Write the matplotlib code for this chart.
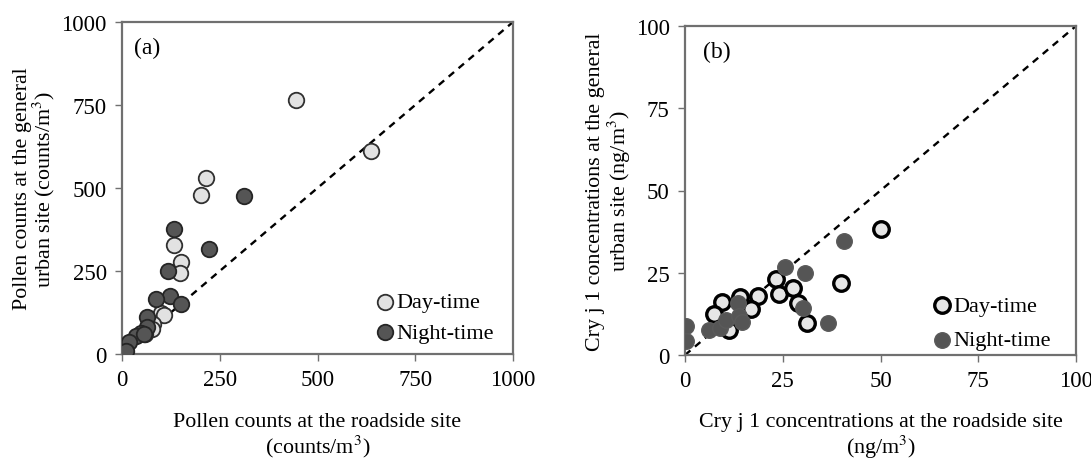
import matplotlib
matplotlib.use('Agg')
import matplotlib.pyplot as plt

plt.rcParams['font.family'] = ['Liberation Serif', 'DejaVu Serif']
plt.rcParams['mathtext.fontset'] = 'stix'

# (a) pollen counts, counts/m3 : roadside (x) vs general urban site (y)
pollen_day_x = [445, 636, 215, 203, 133, 150, 148, 99, 108, 80, 77, 60]
pollen_day_y = [765, 611, 531, 480, 329, 277, 243, 124, 118, 90, 76, 60]
pollen_night_x = [311, 222, 134, 117, 123, 86, 152, 63, 63, 48, 36, 19, 10, 55]
pollen_night_y = [476, 317, 378, 249, 175, 166, 152, 112, 80, 63, 53, 36, 8, 60]

# (b) Cry j 1 concentrations, ng/m3
cry_day_x = [50.2, 39.8, 23.2, 24.0, 27.7, 28.8, 31.1, 18.6, 16.8, 14.0, 9.4, 7.3, 11.3]
cry_day_y = [38.2, 21.8, 23.1, 18.4, 20.3, 15.7, 9.7, 18.0, 14.0, 17.5, 16.1, 12.5, 7.5]
cry_night_x = [0.2, 0.3, 6.2, 9.0, 10.6, 13.6, 13.8, 14.7, 25.7, 30.7, 30.1, 36.7, 40.6]
cry_night_y = [8.8, 4.3, 7.6, 8.1, 10.6, 15.7, 12.0, 10.0, 26.8, 24.9, 14.2, 9.6, 34.5]

ticks_a = [0, 250, 500, 750, 1000]
ticks_b = [0, 25, 50, 75, 100]

fig = plt.figure(figsize=(10.91, 4.6), dpi=100)
ax1 = fig.add_axes([122 / 1091, 1 - 355 / 460, 391 / 1091, 332 / 460])
ax2 = fig.add_axes([685 / 1091, 1 - 356 / 460, 391 / 1091, 329 / 460])

spine_col = '#707070'


def style_axes(ax, ticks):
    ax.set_xlim(ticks[0], ticks[-1])
    ax.set_ylim(ticks[0], ticks[-1])
    ax.set_xticks(ticks)
    ax.set_yticks(ticks)
    for s in ax.spines.values():
        s.set_color(spine_col)
        s.set_linewidth(1.6)
    ax.tick_params(direction='out', length=5, width=1, color=spine_col,
                   labelsize=16.5, pad=6)
    ax.plot([ticks[0], ticks[-1]], [ticks[0], ticks[-1]], color='black',
            linestyle=(0, (3, 2.5)), linewidth=1.7, zorder=2)


# panel (a)
style_axes(ax1, ticks_a)
ax1.scatter(pollen_day_x, pollen_day_y, s=125, facecolor='#e2e2e2',
            edgecolor='#303030', linewidth=1.3, zorder=3, label='Day-time')
ax1.scatter(pollen_night_x, pollen_night_y, s=125, facecolor='#555555',
            edgecolor='#252525', linewidth=1.3, zorder=4, label='Night-time')
ax1.text(0.03, 0.955, '(a)', transform=ax1.transAxes, fontsize=17, va='top')
ax1.set_ylabel('Pollen counts at the general\nurban site (counts/m$^3$)',
               fontsize=15.8, labelpad=3, linespacing=0.95)
ax1.set_xlabel('Pollen counts at the roadside site\n(counts/m$^3$)',
               fontsize=15.8, labelpad=16, linespacing=1.08)
ax1.legend(loc='lower right', frameon=False, fontsize=16, handlelength=1.0,
           handletextpad=0.0, labelspacing=0.45, borderaxespad=0.1,
           bbox_to_anchor=(0.98, 0.0))

# panel (b)
style_axes(ax2, ticks_b)
ax2.scatter(cry_day_x, cry_day_y, s=125, facecolor='#e6e6e6',
            edgecolor='black', linewidth=2.4, zorder=3, label='Day-time')
ax2.scatter(cry_night_x, cry_night_y, s=125, facecolor='#555555',
            edgecolor='#5a5a5a', linewidth=1.0, zorder=4, label='Night-time')
ax2.text(0.045, 0.955, '(b)', transform=ax2.transAxes, fontsize=17, va='top')
ax2.set_ylabel('Cry j 1 concentrations at the general\nurban site (ng/m$^3$)',
               fontsize=15.8, labelpad=2, linespacing=1.05)
ax2.set_xlabel('Cry j 1 concentrations at the roadside site\n(ng/m$^3$)',
               fontsize=15.8, labelpad=15, linespacing=1.08)
ax2.legend(loc='lower right', frameon=False, fontsize=16, handlelength=1.0,
           handletextpad=0.0, labelspacing=0.62, borderaxespad=0.1,
           bbox_to_anchor=(0.963, -0.02))

fig.savefig('out.png', dpi=100)
